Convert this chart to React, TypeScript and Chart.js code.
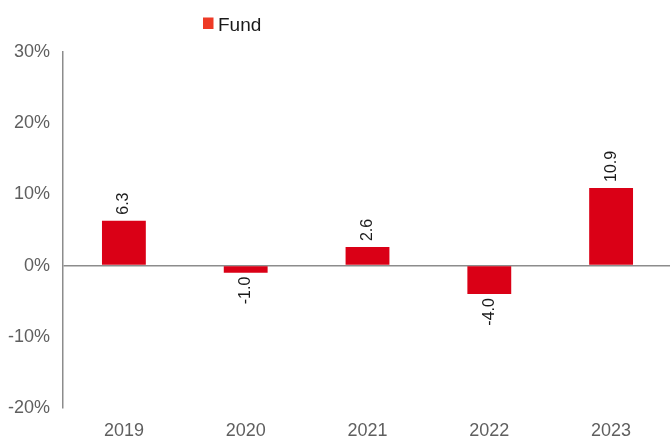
import React, { useEffect, useRef } from "react";
import { Chart, registerables } from "chart.js";

Chart.register(...registerables);

const categories = ["2019", "2020", "2021", "2022", "2023"];
const fundValues = [6.3, -1.0, 2.6, -4.0, 10.9];
const seriesLabel = "Fund";
const yMin = -20;
const yMax = 30;
const yStep = 10;

const FONT = "'Liberation Sans', Arial, sans-serif";
const BAR_COLOR = "#DA0016";
const LEGEND_COLOR = "#EE3A26";
const AXIS_COLOR = "#8c8c8c";

const dataLabelPlugin = {
  id: "dataLabels",
  afterDatasetsDraw(chart: any) {
    const ctx = chart.ctx;
    const meta = chart.getDatasetMeta(0);
    const ds = chart.data.datasets[0];
    ctx.save();
    ctx.font = `16px ${FONT}`;
    ctx.fillStyle = "#1a1a1a";
    ctx.textBaseline = "middle";
    meta.data.forEach((bar: any, i: number) => {
      const v = ds.data[i] as number;
      const txt = v.toFixed(1);
      ctx.save();
      if (v >= 0) {
        ctx.translate(bar.x, bar.y - 6);
        ctx.rotate(-Math.PI / 2);
        ctx.textAlign = "left";
      } else {
        ctx.translate(bar.x, bar.y + 4);
        ctx.rotate(-Math.PI / 2);
        ctx.textAlign = "right";
      }
      ctx.fillText(txt, 0, 0);
      ctx.restore();
    });
    ctx.restore();
  },
};

const legendPlugin = {
  id: "customLegend",
  afterDraw(chart: any) {
    const ctx = chart.ctx;
    const ds = chart.data.datasets[0];
    ctx.save();
    const sqX = 203;
    const sqY = 17.5;
    ctx.fillStyle = LEGEND_COLOR;
    ctx.fillRect(sqX, sqY, 10.5, 11.5);
    ctx.font = `19px ${FONT}`;
    ctx.fillStyle = "#1a1a1a";
    ctx.textAlign = "left";
    ctx.textBaseline = "alphabetic";
    ctx.fillText(ds.label, sqX + 15, sqY + 13.5);
    ctx.restore();
  },
};

export default function App() {
  const ref = useRef<HTMLCanvasElement>(null);

  useEffect(() => {
    if (!ref.current) return;
    const chart = new Chart(ref.current, {
      type: "bar",
      data: {
        labels: categories,
        datasets: [
          {
            label: seriesLabel,
            data: fundValues,
            backgroundColor: BAR_COLOR,
            barPercentage: 0.36,
            categoryPercentage: 1,
          },
        ],
      },
      options: {
        responsive: false,
        animation: false,
        layout: { padding: { top: 52, right: 0, bottom: 0, left: 0 } },
        plugins: {
          legend: { display: false },
          tooltip: { enabled: false },
        },
        scales: {
          x: {
            grid: { display: false },
            border: { display: false },
            ticks: {
              color: "#5f5f5f",
              font: { family: FONT, size: 18 },
              padding: 4,
              maxRotation: 0,
            },
            afterFit(scale: any) {
              scale.height = 28;
            },
          },
          y: {
            min: yMin,
            max: yMax,
            grid: {
              drawTicks: false,
              color: (c: any) => (c.tick && c.tick.value === 0 ? AXIS_COLOR : "rgba(0,0,0,0)"),
              lineWidth: 1.5,
            },
            border: { display: true, color: AXIS_COLOR, width: 1.5 },
            ticks: {
              stepSize: yStep,
              color: "#5f5f5f",
              font: { family: FONT, size: 18 },
              padding: 13,
              callback: (v: any) => `${v}%`,
            },
            afterFit(scale: any) {
              scale.width = 63;
            },
          },
        },
      },
      plugins: [dataLabelPlugin, legendPlugin],
    });
    return () => chart.destroy();
  }, []);

  return (
    <div
      style={{
        position: "absolute",
        left: 0,
        top: 0,
        width: 670,
        height: 436,
        overflow: "hidden",
        background: "#fff",
      }}
    >
      <canvas ref={ref} width={672} height={436} style={{ display: "block" }} />
    </div>
  );
}
